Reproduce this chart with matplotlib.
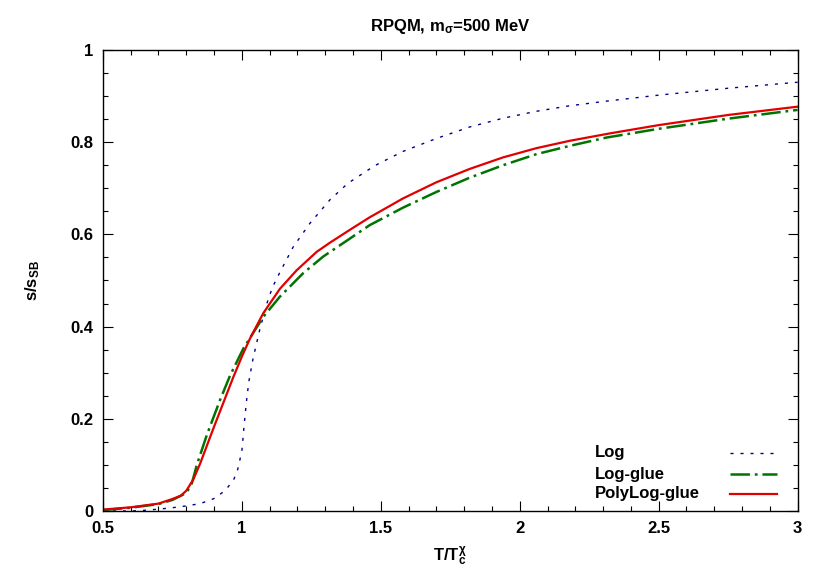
import matplotlib
matplotlib.use("Agg")
import matplotlib.pyplot as plt
from matplotlib.ticker import MultipleLocator, FuncFormatter

plt.rcParams['font.family'] = ['Liberation Sans', 'DejaVu Sans']
plt.rcParams['font.weight'] = 'bold'
plt.rcParams['mathtext.fontset'] = 'custom'
plt.rcParams['mathtext.rm'] = 'Liberation Sans:bold'
plt.rcParams['mathtext.it'] = 'Liberation Sans:bold'
plt.rcParams['mathtext.bf'] = 'Liberation Sans:bold'
plt.rcParams['mathtext.sf'] = 'Liberation Sans:bold'
plt.rcParams['lines.scale_dashes'] = False

# ---- data ----
log_x = [0.5, 0.6, 0.64, 0.7, 0.75, 0.8, 0.85, 0.9, 0.93, 0.95, 0.97, 0.985, 1.0,
         1.008, 1.016, 1.025, 1.04, 1.065, 1.09, 1.11, 1.137, 1.185, 1.245, 1.317,
         1.382, 1.478, 1.58, 1.7, 1.82, 1.94, 2.06, 2.18, 2.312, 2.5, 2.75, 3.0]
log_y = [0.0, 0.0, 0.001, 0.004, 0.007, 0.011, 0.016, 0.027, 0.04, 0.052, 0.067, 0.09, 0.13,
         0.185, 0.235, 0.28, 0.33, 0.395, 0.45, 0.485, 0.518, 0.573, 0.624, 0.675,
         0.711, 0.749, 0.78, 0.808, 0.833, 0.852, 0.867, 0.879, 0.889, 0.902, 0.917, 0.93]

glue_x = [0.5, 0.6, 0.7, 0.75, 0.8, 0.82, 0.838, 0.874, 0.921, 0.957, 1.005, 1.077,
          1.137, 1.221, 1.293, 1.389, 1.46, 1.58, 1.7, 1.82, 1.94, 2.06, 2.18,
          2.312, 2.5, 2.75, 3.0]
glue_y = [0.002, 0.007, 0.015, 0.024, 0.039, 0.06, 0.1, 0.165, 0.24, 0.293, 0.352, 0.421,
          0.465, 0.516, 0.552, 0.591, 0.62, 0.658, 0.692, 0.723, 0.75, 0.774, 0.792,
          0.810, 0.829, 0.851, 0.870]

poly_x = [0.5, 0.6, 0.7, 0.75, 0.78, 0.8, 0.825, 0.85, 0.875, 0.9, 0.94, 0.969, 1.0,
          1.03, 1.077, 1.137, 1.197, 1.269, 1.317, 1.389, 1.46, 1.58, 1.7, 1.82,
          1.94, 2.06, 2.18, 2.324, 2.5, 2.75, 3.0]
poly_y = [0.003, 0.008, 0.016, 0.026, 0.033, 0.044, 0.068, 0.103, 0.143, 0.183, 0.245, 0.29, 0.335,
          0.375, 0.429, 0.482, 0.522, 0.562, 0.582, 0.610, 0.637, 0.678, 0.713, 0.742,
          0.767, 0.787, 0.803, 0.819, 0.837, 0.859, 0.877]

labels = ['Log', 'Log-glue', 'PolyLog-glue']
colors = ['#00008b', '#007400', '#e00000']
styles = [(0, (2.2, 5.0)), (0, (14, 3.5, 2, 3.5)), '-']
widths = [1.0, 1.8, 1.6]

fig = plt.figure(figsize=(8.3, 5.81), dpi=100)
ax = fig.add_axes([0.124, 0.1205, 0.837, 0.7935])

series = [(log_x, log_y), (glue_x, glue_y), (poly_x, poly_y)]
for (xs, ys), c, ls, lw in zip(series, colors, styles, widths):
    ax.plot(xs, ys, color=c, linestyle=ls, linewidth=lw)

ax.set_xlim(0.5, 3.0)
ax.set_ylim(0, 1)
ax.xaxis.set_major_locator(MultipleLocator(0.5))
ax.xaxis.set_minor_locator(MultipleLocator(0.1))
ax.yaxis.set_major_locator(MultipleLocator(0.2))
ax.yaxis.set_minor_locator(MultipleLocator(0.05))
fmt = FuncFormatter(lambda v, p: '%g' % round(v, 3))
ax.xaxis.set_major_formatter(fmt)
ax.yaxis.set_major_formatter(fmt)
ax.tick_params(which='both', direction='in', top=True, right=True, labelsize=12, width=0.8)
ax.tick_params(which='major', length=7, pad=7)
ax.tick_params(which='minor', length=3.5)
for s in ax.spines.values():
    s.set_linewidth(1.0)

ax.set_title(r'RPQM, m$_\sigma$=500 MeV', fontsize=12, fontweight='bold', pad=14)
ax.set_xlabel(r'T/T$^\chi_{\rm c}$', fontsize=12, fontweight='bold', labelpad=7)
ax.set_ylabel(r's/s$_{\rm SB}$', fontsize=12, fontweight='bold', labelpad=20)

# legend drawn manually (gnuplot style: text left, sample right)
ty = [0.126, 0.080, 0.037]
for lab, c, ls, lw, yy in zip(labels, colors, styles, widths, ty):
    ax.text(0.708, yy, lab, transform=ax.transAxes, fontsize=12, fontweight='bold',
            ha='left', va='center')
    ax.plot([0.902, 0.971], [yy, yy], transform=ax.transAxes, color=c, linestyle=ls,
            linewidth=lw)

fig.savefig('out.png', dpi=100)
